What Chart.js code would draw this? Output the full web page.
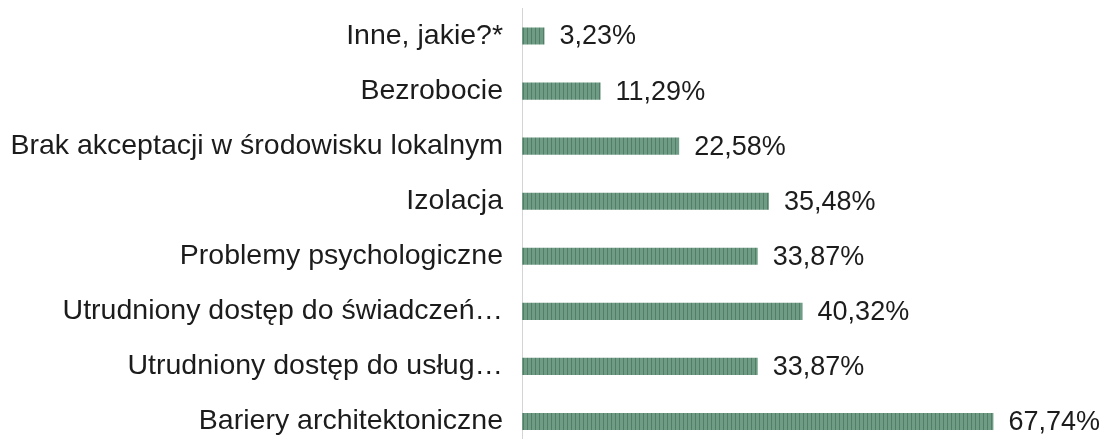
<!DOCTYPE html>
<html>
<head>
<meta charset="utf-8">
<script src="https://cdn.jsdelivr.net/npm/chart.js@4/dist/chart.umd.min.js"></script>
<style>
  html, body { margin: 0; padding: 0; background: #fff; overflow: hidden; }
  /* a little taller than the window: the last row sits at the very bottom edge */
  #wrap { width: 1107px; height: 449px; position: relative; }
</style>
</head>
<body>
<div id="wrap"><canvas id="barChart"></canvas></div>
<script>
var CATEGORIES = [
  'Inne, jakie?*',
  'Bezrobocie',
  'Brak akceptacji w środowisku lokalnym',
  'Izolacja',
  'Problemy psychologiczne',
  'Utrudniony dostęp do świadczeń…',
  'Utrudniony dostęp do usług…',
  'Bariery architektoniczne'
];
var VALUES = [3.23, 11.29, 22.58, 35.48, 33.87, 40.32, 33.87, 67.74];
var VALUE_LABELS = ['3,23%', '11,29%', '22,58%', '35,48%', '33,87%', '40,32%', '33,87%', '67,74%'];

var FONT = '"Liberation Sans", Arial, sans-serif';

// striped fill, the scanned bars have thin vertical lines in them
function stripePattern() {
  var c = document.createElement('canvas');
  c.width = 4; c.height = 4;
  var g = c.getContext('2d');
  g.fillStyle = '#6f9c84';
  g.fillRect(0, 0, 4, 4);
  g.fillStyle = '#527d67';
  g.fillRect(3, 0, 1, 4);
  return g.createPattern(c, 'repeat');
}

// draws the percentage text just right of each bar
var valueLabels = {
  id: 'valueLabels',
  afterDatasetsDraw: function (chart) {
    var ctx = chart.ctx;
    var meta = chart.getDatasetMeta(0);
    ctx.save();
    ctx.font = '27px ' + FONT;
    ctx.fillStyle = '#1c1c1c';
    ctx.textBaseline = 'middle';
    ctx.textAlign = 'left';
    meta.data.forEach(function (bar, i) {
      ctx.fillText(VALUE_LABELS[i], bar.x + 15, bar.y + 1);
    });
    ctx.restore();
  }
};

var CHART = new Chart(document.getElementById('barChart'), {
  type: 'bar',
  data: {
    labels: CATEGORIES,
    datasets: [{
      data: VALUES,
      backgroundColor: stripePattern(),
      borderWidth: 0,
      barPercentage: 0.31,
      categoryPercentage: 1
    }]
  },
  options: {
    indexAxis: 'y',
    responsive: true,
    maintainAspectRatio: false,
    animation: false,
    layout: { padding: { left: 8, right: 77, top: 8.5, bottom: 0 } },
    plugins: {
      legend: { display: false },
      tooltip: { enabled: false }
    },
    scales: {
      x: {
        display: false,
        min: 0,
        max: 73
      },
      y: {
        afterFit: function (scale) {
          scale.width = 514;
          scale.paddingTop = 0;
          scale.paddingBottom = 0;
        },
        grid: { display: false, drawTicks: false },
        border: { display: true, color: '#d4d4d4', width: 1 },
        ticks: {
          color: '#1c1c1c',
          padding: 19,
          font: { family: FONT, size: 28.5 }
        }
      }
    }
  },
  plugins: [valueLabels]
});
</script>
</body>
</html>
